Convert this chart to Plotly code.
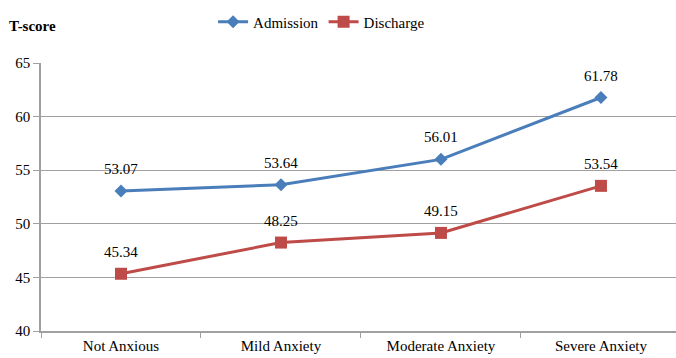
import plotly.graph_objects as go

categories = ["Not Anxious", "Mild Anxiety", "Moderate Anxiety", "Severe Anxiety"]
admission = [53.07, 53.64, 56.01, 61.78]
discharge = [45.34, 48.25, 49.15, 53.54]
y_ticks = [40, 45, 50, 55, 60, 65]

font_family = "Times New Roman, Liberation Serif, DejaVu Serif, serif"
FS = 15

fig = go.Figure()
fig.add_trace(go.Scatter(
    x=categories, y=admission, name="Admission", mode="lines+markers",
    line=dict(color="#4A7EBB", width=3),
    marker=dict(symbol="diamond", size=10, color="#4A7EBB"),
))
fig.add_trace(go.Scatter(
    x=categories, y=discharge, name="Discharge", mode="lines+markers",
    line=dict(color="#BE4B48", width=3),
    marker=dict(symbol="square", size=12, color="#BE4B48"),
))

for series in (admission, discharge):
    for cat, v in zip(categories, series):
        fig.add_annotation(x=cat, y=v, text=f"{v:.2f}", showarrow=False,
                           yshift=22, yanchor="middle",
                           font=dict(size=FS, color="black", family=font_family))

fig.update_layout(
    width=676, height=358,
    margin=dict(l=41, r=0, t=63, b=27, autoexpand=False),
    paper_bgcolor="white", plot_bgcolor="white",
    font=dict(family=font_family, size=FS, color="black"),
    showlegend=True,
    legend=dict(orientation="h", x=0.271, xanchor="left",
                y=1 + (63 - 22) / 268, yanchor="middle",
                font=dict(size=FS, family=font_family), itemwidth=30,
                bgcolor="rgba(0,0,0,0)"),
)
fig.add_annotation(text="<b>T-score</b>", xref="paper", yref="paper",
                   x=-34/635, y=1 + (63 - 26) / 268, xanchor="left", yanchor="middle",
                   showarrow=False, font=dict(size=FS, family=font_family))

fig.update_xaxes(
    type="category", range=[-0.5, 3.469], tickson="boundaries",
    ticks="outside", ticklen=5, tickcolor="#A0A0A0",
    showline=True, linecolor="#A0A0A0", linewidth=1.5, showgrid=False,
    tickfont=dict(size=FS, family=font_family),
)
fig.update_yaxes(
    range=[40, 65], tickvals=y_ticks, ticks="outside", ticklen=6, tickcolor="#A0A0A0",
    showline=True, linecolor="#A0A0A0", linewidth=1.5,
    showgrid=True, gridcolor="#A0A0A0", gridwidth=1, zeroline=False,
    tickfont=dict(size=FS, family=font_family),
)

fig.write_html("out.html", config={"displayModeBar": False},
               post_script="document.body.style.margin='0';document.body.style.overflow='hidden';")
